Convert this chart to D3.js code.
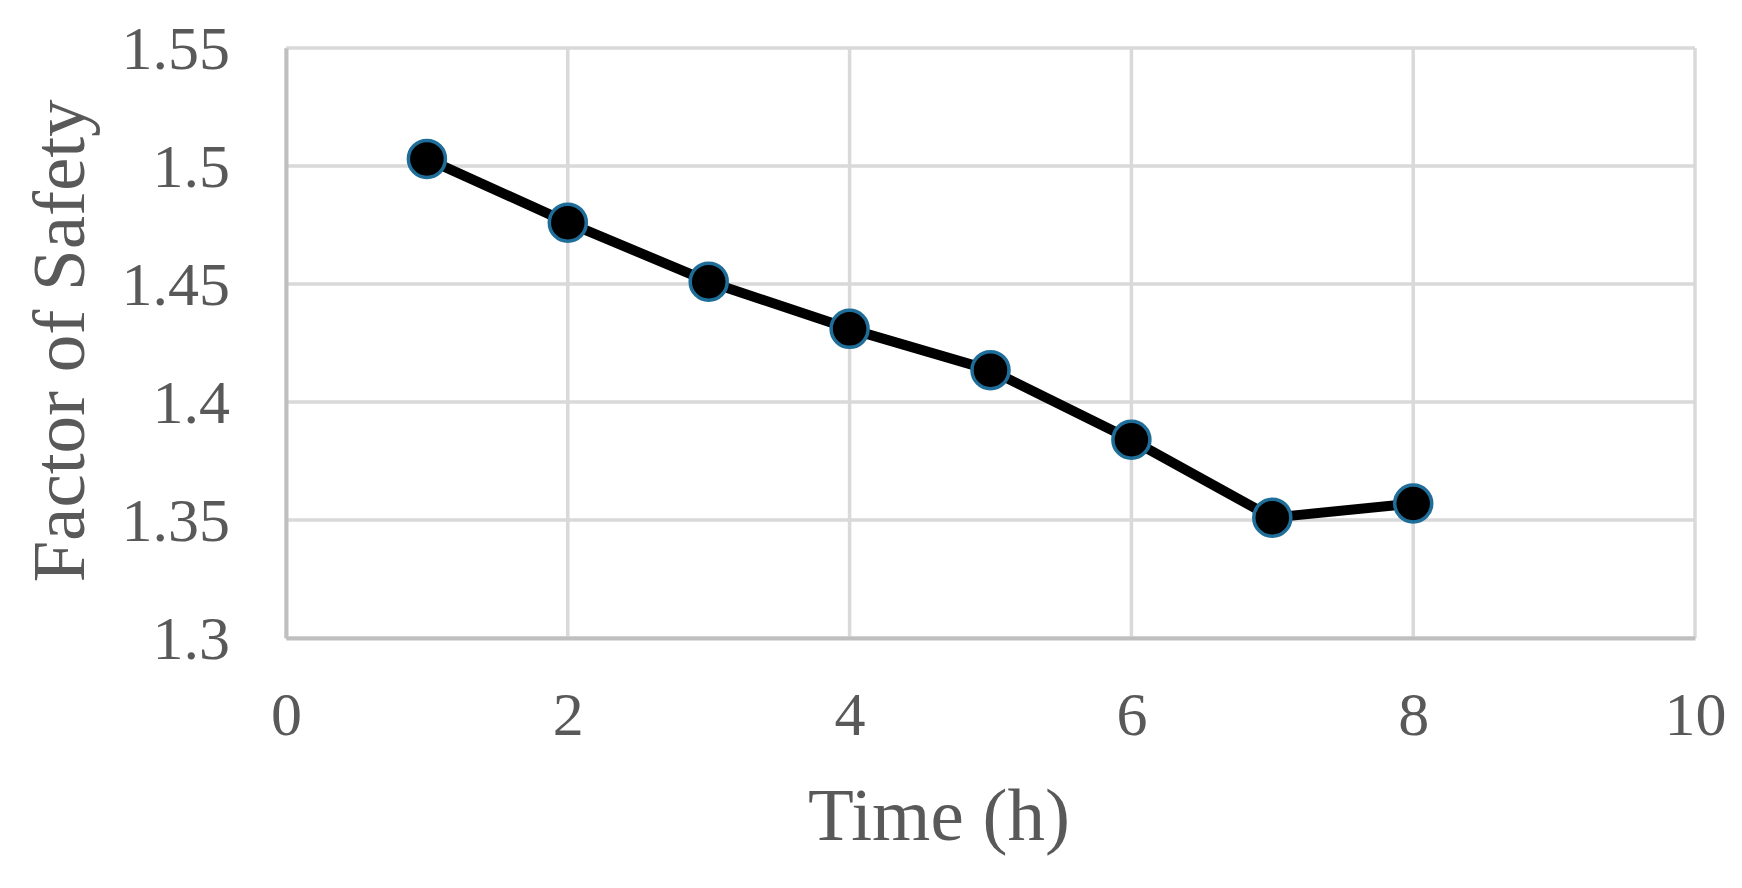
<!DOCTYPE html>
<html>
<head>
<meta charset="utf-8">
<script src="https://cdn.jsdelivr.net/npm/d3@7"></script>
<style>
  html, body { margin: 0; padding: 0; background: #fff; }
  svg { display: block; }
</style>
</head>
<body>
<svg id="chart" width="1742" height="888"></svg>
<script>
const timeHours = [1, 2, 3, 4, 5, 6, 7, 8];
const factorOfSafety = [1.503, 1.476, 1.451, 1.431, 1.4135, 1.384, 1.351, 1.357];
const xTicks = [0, 2, 4, 6, 8, 10];
const yTicks = [1.3, 1.35, 1.4, 1.45, 1.5, 1.55];
const yTickLabels = ["1.3", "1.35", "1.4", "1.45", "1.5", "1.55"];
const xTitle = "Time (h)";
const yTitle = "Factor of Safety";

const svg = d3.select("#chart");
const margin = { left: 286, right: 1742 - 1695, top: 48, bottom: 888 - 638 };
const W = 1742, H = 888;
const x = d3.scaleLinear().domain([0, 10]).range([margin.left, W - margin.right]);
const y = d3.scaleLinear().domain([1.3, 1.55]).range([H - margin.bottom, margin.top]);

const font = "'Liberation Serif', 'Times New Roman', serif";
const textColor = "#595959";

// gridlines
svg.append("g").selectAll("line.h").data(yTicks).join("line")
  .attr("x1", x(0)).attr("x2", x(10))
  .attr("y1", d => y(d)).attr("y2", d => y(d))
  .attr("stroke", "#d9d9d9").attr("stroke-width", 3.5);
svg.append("g").selectAll("line.v").data(xTicks).join("line")
  .attr("x1", d => x(d)).attr("x2", d => x(d))
  .attr("y1", y(1.3)).attr("y2", y(1.55))
  .attr("stroke", "#d9d9d9").attr("stroke-width", 3.5);

// axes (left & bottom)
const xAxis = d3.axisBottom(x).tickValues(xTicks).tickSize(0).tickPadding(0).tickFormat(d3.format("d"));
const gx = svg.append("g").attr("transform", `translate(0,${y(1.3)})`).call(xAxis);
gx.select(".domain").attr("stroke", "#bfbfbf").attr("stroke-width", 4);
gx.selectAll("text").attr("font-family", font).attr("font-size", 62)
  .attr("fill", textColor).attr("dy", 0).attr("y", 97);

const yAxis = d3.axisLeft(y).tickValues(yTicks).tickSize(0).tickPadding(0)
  .tickFormat((d, i) => yTickLabels[i]);
const gy = svg.append("g").attr("transform", `translate(${x(0)},0)`).call(yAxis);
gy.select(".domain").attr("stroke", "#bfbfbf").attr("stroke-width", 4);
gy.selectAll("text").attr("font-family", font).attr("font-size", 62)
  .attr("fill", textColor).attr("x", -56).attr("dy", "0.33em");

// line
const line = d3.line().x((d, i) => x(timeHours[i])).y(d => y(d));
svg.append("path").datum(factorOfSafety)
  .attr("d", line).attr("fill", "none")
  .attr("stroke", "#000").attr("stroke-width", 10).attr("stroke-linejoin", "round");

// markers
svg.append("g").selectAll("circle").data(factorOfSafety).join("circle")
  .attr("cx", (d, i) => x(timeHours[i])).attr("cy", d => y(d))
  .attr("r", 18.5).attr("fill", "#000")
  .attr("stroke", "#1f6e99").attr("stroke-width", 3.5);

// titles
svg.append("text").attr("x", 939).attr("y", 840)
  .attr("text-anchor", "middle").attr("font-family", font)
  .attr("font-size", 75).attr("fill", textColor).text(xTitle);
svg.append("text")
  .attr("transform", `translate(84,341) rotate(-90)`)
  .attr("text-anchor", "middle").attr("font-family", font)
  .attr("font-size", 75).attr("fill", textColor).text(yTitle);
</script>
</body>
</html>
